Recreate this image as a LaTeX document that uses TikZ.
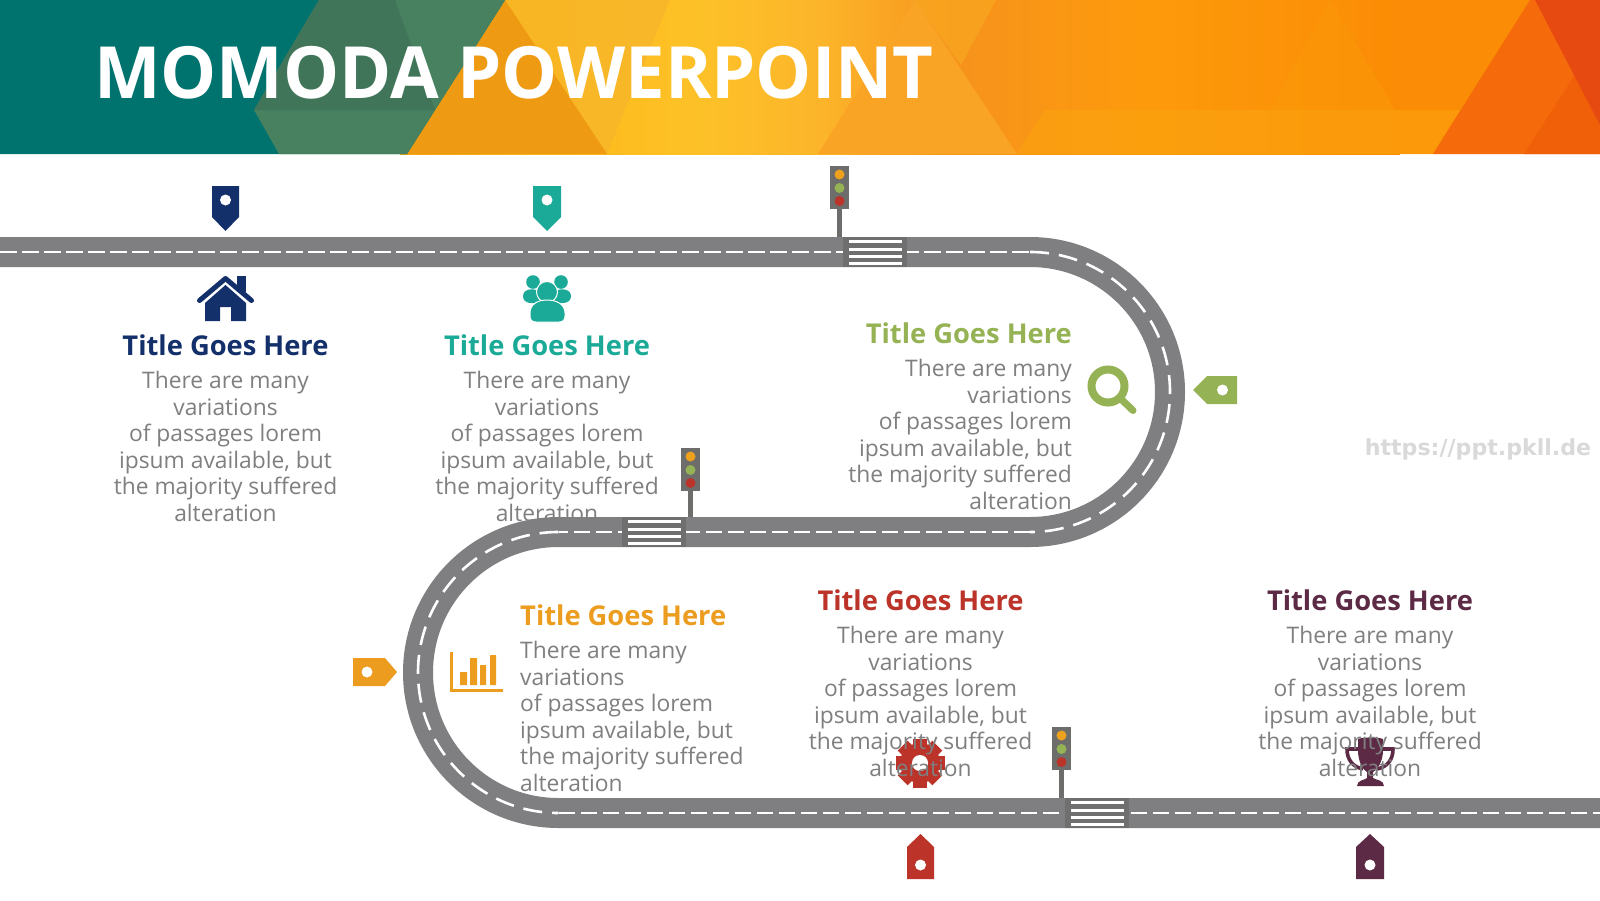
\documentclass[tikz,border=0pt]{standalone}
\usepackage{fontspec}
\setmainfont{Open Sans}
\newfontfamily\titlefont[FakeStretch=0.98]{Open Sans}
\newfontfamily\markfont{DejaVu Sans}
\usetikzlibrary{calc}
\definecolor{teal0}{HTML}{00736F}
\definecolor{green0}{HTML}{478160}
\definecolor{green1}{HTML}{41755A}
\definecolor{roadgray}{HTML}{7F7E80}
\definecolor{walkgray}{HTML}{706F70}
\definecolor{lampbody}{HTML}{6D6D6C}
\definecolor{cnavy}{HTML}{14306B}
\definecolor{cteal}{HTML}{1AAA97}
\definecolor{cgreen}{HTML}{95B354}
\definecolor{corange}{HTML}{EC9C1E}
\definecolor{cred}{HTML}{BB3329}
\definecolor{cplum}{HTML}{5C2A45}
\definecolor{bodygray}{HTML}{7F7F7F}
\definecolor{ba}{HTML}{F9A425}
\definecolor{bb}{HTML}{F8A51F}
\definecolor{bd}{HTML}{EE9A12}
\definecolor{be}{HTML}{F56A0A}
\definecolor{bf}{HTML}{F06008}
\definecolor{bg}{HTML}{E64A10}
\definecolor{g1}{HTML}{F6A60F}
\definecolor{g2}{HTML}{FCB916}
\definecolor{g3}{HTML}{FDC128}
\definecolor{g4}{HTML}{FCB52A}
\definecolor{g5}{HTML}{F7931C}
\definecolor{g6}{HTML}{FD9A0B}
\definecolor{g7}{HTML}{FB8C05}
\definecolor{g8}{HTML}{F7B52B}
\definecolor{g9}{HTML}{FBA30F}
\definecolor{g10}{HTML}{FA9C08}
\tikzset{
  roadbase/.style={draw=roadgray,line width=30pt},
  laneline/.style={draw=white,line width=2.6pt,dash pattern=on 16.5pt off 5.5pt},
  lanecurve/.style={draw=white,line width=2.6pt,dash pattern=on 19pt off 10pt},
  headtext/.style={font=\bfseries\fontsize{27.3}{32}\selectfont,inner sep=0pt},
  copytext/.style={font=\fontsize{22.8}{26.6}\selectfont,text=bodygray,inner sep=0pt},
  midblock/.style={copytext,align=center,anchor=center},
  hole/.style={fill=white,draw=none}
}
% zebra crossing: left edge and road centre height
\newcommand{\zebra}[2]{
  \fill[walkgray] (#1,#2-15) rectangle (#1+64,#2+15);
  \foreach \s in {-12,-4.5,2.5,10}
    \fill[white] (#1+6,#2+\s) rectangle (#1+59,#2+\s+3.4);
}
% signal on a pole: left edge and top of the housing, road edge height
\newcommand{\signal}[3]{
  \fill[lampbody] (#1+7,#2+40) rectangle (#1+12,#3);
  \fill[lampbody] (#1,#2) rectangle (#1+19,#2+43);
  \fill[corange!95!yellow] (#1+9.5,#2+8.5) circle (5);
  \fill[cgreen] (#1+9.5,#2+22) circle (5);
  \fill[cred] (#1+9.5,#2+35) circle (5);
}
\begin{document}
\begin{tikzpicture}[x=1pt,y=-1pt]
\useasboundingbox (0,0) rectangle (1600,900);
\fill[white] (0,0) rectangle (1600,900);

% banner
\fill[g7] (0,0) rectangle (1600,154);
\shade[left color=g1,right color=g2] (400,0) rectangle (520.3,154);
\shade[left color=g2,right color=g3] (520,0) rectangle (700.3,154);
\shade[left color=g3,right color=g4] (700,0) rectangle (820.3,154);
\shade[left color=g4,right color=g5] (820,0) rectangle (960.3,154);
\shade[left color=g5,right color=g6] (960,0) rectangle (1150.3,154);
\shade[left color=g6,right color=g7] (1150,0) rectangle (1400,154);
\fill[g8,opacity=.7] (505,0) -- (607,154) -- (670,0) -- cycle;
\fill[g9,opacity=.6] (1017,154) -- (1045,110) -- (1460,110) -- (1433,154) -- cycle;
\fill[ba] (915,0) -- (818,154) -- (1017,154) -- cycle;
\fill[bb,opacity=.8] (915,0) -- (996,0) -- (961,65) -- cycle;
\fill[g10,opacity=.4] (1330,0) -- (1270,110) -- (1395,110) -- cycle;
\fill[bd] (505,0) -- (407,154) -- (607,154) -- cycle;
\fill[be] (1530,0) -- (1433,154) -- (1600,154) -- (1600,0) -- cycle;
\fill[bf] (1524,154) -- (1578,70) -- (1600,110) -- (1600,154) -- cycle;
\fill[bg] (1535,0) -- (1600,0) -- (1600,125) -- cycle;
\fill[teal0] (0,0) -- (505,0) -- (407,154) -- (0,154) -- cycle;
\fill[green0] (319,0) -- (505,0) -- (407,154) -- (279,154) -- (254,110) -- cycle;
\fill[green1] (319,0) -- (395,0) -- (435,110) -- (254,110) -- cycle;
\node[anchor=west,text=white,inner sep=0pt,font=\titlefont\bfseries\fontsize{72}{80}\selectfont] (banner) at (94,73) {MOMODA POWERPOINT};

% pictograms standing under the copy
\begin{scope}[cred]
  \foreach \a in {0,45,...,315}
    \fill[rotate around={\a:(920,763)}] (913,738.5) rectangle (927,750);
  \fill (920,763) circle (20);
  \fill[white] (920,763) circle (8);
\end{scope}
\begin{scope}[cplum]
  \draw[line width=3.6pt,cplum] (1358,749) -- (1347,749) .. controls (1347,760) and (1353,767) .. (1363,769);
  \draw[line width=3.6pt,cplum] (1383,749) -- (1393,749) .. controls (1393,760) and (1387,767) .. (1377,769);
  \fill (1358,739) .. controls (1362,737) and (1379,737) .. (1383,739) -- (1383,750) .. controls (1383,762) and (1377,770) .. (1373,772) -- (1373,778) .. controls (1376,780) and (1384,780) .. (1384,786) -- (1357,786) .. controls (1357,780) and (1365,780) .. (1367,778) -- (1367,772) .. controls (1363,770) and (1358,762) .. (1358,750) -- cycle;
\end{scope}

% copy blocks
\node[headtext,text=cnavy] (t1) at (225.5,345) {Title Goes Here};
\node[midblock] (b1) at (225.5,446.5) {There are many\\variations\\of passages lorem\\ipsum available, but\\the majority suffered\\alteration};
\node[headtext,text=cteal] (t2) at (547,345) {Title Goes Here};
\node[midblock] (b2) at (547,446.5) {There are many\\variations\\of passages lorem\\ipsum available, but\\the majority suffered\\alteration};
\node[headtext,text=cgreen,anchor=east] (t3) at (1072,333) {Title Goes Here};
\node[copytext,align=right,anchor=east] (b3) at (1072,434.5) {There are many\\variations\\of passages lorem\\ipsum available, but\\the majority suffered\\alteration};
\node[headtext,text=corange,anchor=west] (t4) at (520,615) {Title Goes Here};
\node[copytext,align=left,anchor=west] (b4) at (520,716.5) {There are many\\variations\\of passages lorem\\ipsum available, but\\the majority suffered\\alteration};
\node[headtext,text=cred] (t5) at (920.5,600) {Title Goes Here};
\node[midblock] (b5) at (920.5,701.5) {There are many\\variations\\of passages lorem\\ipsum available, but\\the majority suffered\\alteration};
\node[headtext,text=cplum] (t6) at (1370,600) {Title Goes Here};
\node[midblock] (b6) at (1370,701.5) {There are many\\variations\\of passages lorem\\ipsum available, but\\the majority suffered\\alteration};

% winding road
\draw[roadbase] (0,252) -- (1030,252) arc[start angle=90,end angle=-90,radius=140pt]
  -- (558.5,532) arc[start angle=90,end angle=270,radius=140.5pt] -- (1600,813);
\draw[laneline] (0,252) -- (1030,252);
\draw[lanecurve] (1030,252) arc[start angle=90,end angle=-90,radius=140pt];
\draw[laneline] (1030,532) -- (558.5,532);
\draw[lanecurve] (558.5,532) arc[start angle=90,end angle=270,radius=140.5pt];
\draw[laneline] (558.5,813) -- (1600,813);

% crossings and signals
\zebra{843}{252}
\zebra{622}{532}
\zebra{1065}{813}
\signal{830}{166}{237}
\signal{681}{448}{517}
\signal{1052}{727}{798}

% pins and tags
\fill[cnavy] (212,186) -- (239,186) -- (239,217) -- (225.5,231) -- (212,217) -- cycle;
\fill[hole] (225.5,200) circle (5.5);
\fill[cteal] (533,186) -- (561,186) -- (561,217) -- (547,231) -- (533,217) -- cycle;
\fill[hole] (547,200) circle (5.5);
\fill[cred] (907,879) -- (907,847) -- (920.5,834) -- (934,847) -- (934,879) -- cycle;
\fill[hole] (920.5,865) circle (5.5);
\fill[cplum] (1356,879) -- (1356,847) -- (1370,834) -- (1384,847) -- (1384,879) -- cycle;
\fill[hole] (1370,865) circle (5.5);
\fill[cgreen] (1193,390) -- (1207,376) -- (1237,376) -- (1237,404) -- (1207,404) -- cycle;
\fill[hole] (1222.5,390) circle (5.5);
\fill[corange] (353,658) -- (385,658) -- (397,672) -- (385,686) -- (353,686) -- cycle;
\fill[hole] (367,672) circle (5.5);

% house
\fill[cnavy] (237,276) rectangle (246,292);
\fill[cnavy] (205,321) -- (205,303) -- (225.5,285) -- (246,303) -- (246,321) -- (231,321) -- (231,307) -- (220,307) -- (220,321) -- cycle;
\draw[cnavy,line width=5pt,line cap=round,line join=round] (199.5,300.5) -- (225.5,278.5) -- (251.5,300.5);

% people
\fill[cteal] (533,282) circle (6.8) (561,282) circle (6.8);
\fill[cteal] (523,296) .. controls (523,287) and (540,287) .. (541,296) -- (541,302) .. controls (533,304) and (523,304) .. (523,296) -- cycle;
\fill[cteal] (571,296) .. controls (571,287) and (554,287) .. (553,296) -- (553,302) .. controls (561,304) and (571,304) .. (571,296) -- cycle;
\fill[cteal,draw=white,line width=1pt] (547,292) circle (10.5);
\fill[cteal,draw=white,line width=1pt] (530,321) -- (530,313) .. controls (530,304) and (538,300) .. (547,300) .. controls (556,300) and (565,304) .. (565,313) -- (565,316) .. controls (565,320) and (563,322) .. (559,322) -- (536,322) .. controls (532,322) and (530,320) .. (530,316) -- cycle;

% magnifier
\draw[cgreen,line width=8pt] (1108,386) circle (16.5);
\draw[cgreen,line width=7pt,line cap=round] (1122,400) -- (1133,410.5);

% bar chart
\draw[corange,line width=3pt] (451,652) -- (451,690) -- (503,690);
\fill[corange] (460,672) rectangle (467,685) (470,658) rectangle (477,685)
  (480,665) rectangle (486,685) (490,655) rectangle (496,685);

% site address
\node[anchor=center,inner sep=0pt,text=gray!30,font=\markfont\bfseries\fontsize{22.1}{26}\selectfont] (site) at (1478,449) {https://ppt.pkll.de};
\end{tikzpicture}
\end{document}
